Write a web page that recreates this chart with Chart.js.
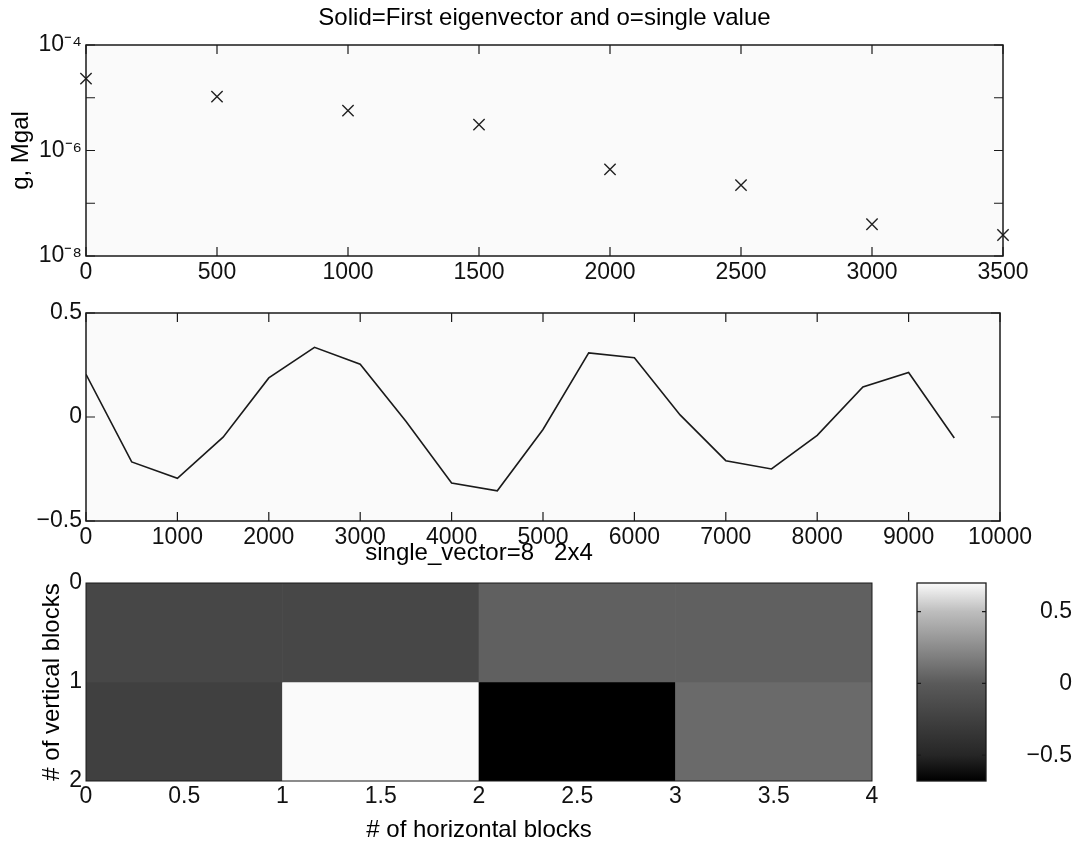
<!DOCTYPE html>
<html>
<head>
<meta charset="utf-8">
<script src="https://cdn.jsdelivr.net/npm/chart.js@4.4.0/dist/chart.umd.min.js"></script>
<style>
  body { margin: 0; background: #fff; }
  #wrap { position: relative; width: 1085px; height: 848px; overflow: hidden; }
  canvas { position: absolute; }
</style>
</head>
<body>
<div id="wrap">
  <canvas id="eig" width="1085" height="292" style="left:0;top:0"></canvas>
  <canvas id="vec" width="1085" height="262" style="left:0;top:290px"></canvas>
  <canvas id="blocks" width="900" height="318" style="left:0;top:530px"></canvas>
  <canvas id="cbar" width="205" height="318" style="left:880px;top:530px"></canvas>
</div>
<script>
// top panel: single values (x markers, log scale)
var svX = [0, 500, 1000, 1500, 2000, 2500, 3000, 3500];
var svVal = [2.3e-5, 1.05e-5, 5.7e-6, 3.1e-6, 4.4e-7, 2.2e-7, 4e-8, 2.5e-8];
var logTicks = [1e-8, 1e-7, 1e-6, 1e-5, 1e-4];

// middle panel: first eigenvector
var vecX = [0, 500, 1000, 1500, 2000, 2500, 3000, 3500, 4000, 4500,
            5000, 5500, 6000, 6500, 7000, 7500, 8000, 8500, 9000, 9500];
var vecVal = [0.205, -0.216, -0.295, -0.097, 0.188, 0.335, 0.254, -0.02, -0.317, -0.355,
              -0.06, 0.308, 0.285, 0.01, -0.21, -0.25, -0.088, 0.144, 0.214, -0.101];

// bottom panel: single_vector=8 on 2x4 blocks
var blockEdges = [0, 1, 2, 3, 4];
var rowCenters = [0.5, 1.5];
var blockRows = [
  [-0.18, -0.18, 0.03, 0.03],
  [-0.25, 0.70, -0.68, 0.08]
];
var cbarTicks = [-0.5, 0, 0.5];

// grey colormap (value -> grey level)
var cmapVals = [-0.68, -0.5, 0, 0.5, 0.70];
var cmapGray = [0, 38, 90, 189, 250];

var FONT = '"Liberation Sans", Arial, Helvetica, sans-serif';
Chart.defaults.font.family = FONT;
Chart.defaults.color = '#111';
Chart.defaults.animation = false;
Chart.defaults.responsive = false;
Chart.defaults.plugins.legend.display = false;
Chart.defaults.plugins.tooltip.enabled = false;

function grayOf(v) {
  var g = cmapGray[cmapGray.length - 1];
  if (v <= cmapVals[0]) g = cmapGray[0];
  for (var i = 1; i < cmapVals.length; i++) {
    if (v > cmapVals[i - 1] && v <= cmapVals[i]) {
      var t = (v - cmapVals[i - 1]) / (cmapVals[i] - cmapVals[i - 1]);
      g = cmapGray[i - 1] + t * (cmapGray[i] - cmapGray[i - 1]);
      break;
    }
  }
  g = Math.round(g);
  return 'rgb(' + g + ',' + g + ',' + g + ')';
}

function plain(v) {
  return String(Math.round(v * 1000) / 1000).replace('-', '\u2212');
}

var SUP = {'-': '\u207B', '0': '\u2070', '1': '\u00B9', '2': '\u00B2', '3': '\u00B3', '4': '\u2074',
           '5': '\u2075', '6': '\u2076', '7': '\u2077', '8': '\u2078', '9': '\u2079'};
function pow10(v) {
  var e = Math.round(Math.log10(v));
  if (e % 2 !== 0) return '';
  return '10' + String(e).split('').map(function(c) { return SUP[c]; }).join('');
}

function fixW(w) { return function(s) { s.width = w; }; }
function fixH(h) { return function(s) { s.height = h; }; }

// box round the plot area + inward ticks like the original
var frame = {
  id: 'frame',
  beforeDatasetsDraw: function(chart, args, o) {
    var a = chart.chartArea, ctx = chart.ctx;
    if (o.bg) {
      ctx.save();
      ctx.fillStyle = o.bg;
      ctx.fillRect(a.left, a.top, a.width, a.height);
      ctx.restore();
    }
    if (o.cmap) {
      var ys = chart.scales.y;
      var grad = ctx.createLinearGradient(0, a.bottom, 0, a.top);
      cmapVals.forEach(function(v, i) {
        var p = (ys.getPixelForValue(v) - a.bottom) / (a.top - a.bottom);
        grad.addColorStop(Math.min(1, Math.max(0, p)), grayOf(v));
      });
      ctx.save();
      ctx.fillStyle = grad;
      ctx.fillRect(a.left, a.top, a.width, a.height);
      ctx.restore();
    }
  },
  afterDraw: function(chart, args, o) {
    if (!o.line) return;
    var a = chart.chartArea, ctx = chart.ctx;
    ctx.save();
    ctx.strokeStyle = '#1a1a1a';
    ctx.lineWidth = o.line;
    ctx.strokeRect(a.left, a.top, a.width, a.height);
    if (o.tick) {
      var L = o.tick, xs = chart.scales.x, ys = chart.scales.y;
      ctx.lineWidth = 1.2;
      ctx.beginPath();
      if (o.xTicks !== false) {
        xs.ticks.forEach(function(t) {
          var p = xs.getPixelForValue(t.value);
          ctx.moveTo(p, a.bottom); ctx.lineTo(p, a.bottom - L);
          ctx.moveTo(p, a.top); ctx.lineTo(p, a.top + L);
        });
      }
      ys.ticks.forEach(function(t) {
        var p = ys.getPixelForValue(t.value);
        ctx.moveTo(a.left, p); ctx.lineTo(a.left + L, p);
        ctx.moveTo(a.right, p); ctx.lineTo(a.right - L, p);
      });
      ctx.stroke();
    }
    ctx.restore();
  }
};
Chart.register(frame);

var tickFont = {size: 23};
var noGrid = {display: false, drawTicks: false};
var noBorder = {display: false};

new Chart(document.getElementById('eig'), {
  type: 'scatter',
  data: {
    datasets: [{
      data: svX.map(function(x, i) { return {x: x, y: svVal[i]}; }),
      pointStyle: 'crossRot',
      pointRadius: 8,
      borderColor: '#222',
      borderWidth: 1.4,
      clip: false
    }]
  },
  options: {
    layout: {padding: {left: 0, right: 82, top: 0, bottom: 0}},
    plugins: {
      title: {
        display: true, fullSize: false,
        text: 'Solid=First eigenvector and o=single value',
        color: '#000',
        font: {size: 24, weight: 'normal'},
        padding: {top: 4, bottom: 12.2}
      },
      frame: {bg: '#fafafa', line: 1.5, tick: 9}
    },
    scales: {
      x: {
        type: 'linear', min: 0, max: 3500,
        grid: noGrid, border: noBorder,
        ticks: {stepSize: 500, font: tickFont, padding: 3, maxRotation: 0, callback: plain},
        afterFit: fixH(36)
      },
      y: {
        type: 'logarithmic', min: 1e-8, max: 1e-4,
        grid: noGrid, border: noBorder,
        ticks: {font: tickFont, padding: 4, callback: pow10},
        afterBuildTicks: function(s) { s.ticks = logTicks.map(function(v) { return {value: v}; }); },
        title: {display: true, text: 'g, Mgal', color: '#000', font: {size: 24}, padding: {top: 7, bottom: 0}},
        afterFit: fixW(86)
      }
    }
  }
});

new Chart(document.getElementById('vec'), {
  type: 'line',
  data: {
    datasets: [{
      data: vecX.map(function(x, i) { return {x: x, y: vecVal[i]}; }),
      borderColor: '#1a1a1a',
      borderWidth: 1.6,
      pointRadius: 0,
      tension: 0
    }]
  },
  options: {
    layout: {padding: {left: 0, right: 85, top: 23, bottom: 0}},
    plugins: {frame: {bg: '#fafafa', line: 1.5, tick: 9}},
    scales: {
      x: {
        type: 'linear', min: 0, max: 10000,
        grid: noGrid, border: noBorder,
        ticks: {stepSize: 1000, font: tickFont, padding: 3, maxRotation: 0, callback: plain},
        afterFit: fixH(31)
      },
      y: {
        min: -0.5, max: 0.5,
        grid: noGrid, border: noBorder,
        ticks: {stepSize: 0.5, font: tickFont, padding: 4, callback: plain},
        afterFit: fixW(86)
      }
    }
  }
});

// each block is a horizontal floating bar: x from edge c to c+1, centred on its row
new Chart(document.getElementById('blocks'), {
  type: 'bar',
  data: {
    datasets: blockRows.map(function(row, r) {
      return {
        data: row.map(function(v, c) { return {y: rowCenters[r], x: [blockEdges[c], blockEdges[c + 1]]}; }),
        backgroundColor: row.map(grayOf),
        borderWidth: 0,
        barPercentage: 1,
        categoryPercentage: 1,
        grouped: false
      };
    })
  },
  options: {
    indexAxis: 'y',
    layout: {padding: {left: 0, right: 28, top: 0, bottom: 0}},
    plugins: {
      title: {
        display: true, fullSize: false,
        text: 'single_vector=8   2x4',
        color: '#000',
        font: {size: 24, weight: 'normal'},
        padding: {top: 8.6, bottom: 15.6}
      },
      frame: {line: 1}
    },
    scales: {
      x: {
        type: 'linear', min: 0, max: 4,
        grid: noGrid, border: noBorder,
        ticks: {stepSize: 0.5, font: tickFont, padding: 2, maxRotation: 0, callback: plain},
        title: {display: true, text: '# of horizontal blocks', color: '#000', font: {size: 24}, padding: {top: 0, bottom: 3.6}},
        afterFit: fixH(67)
      },
      y: {
        type: 'linear', min: 0, max: 2, reverse: true, offset: false,
        grid: noGrid, border: noBorder,
        ticks: {stepSize: 1, font: tickFont, padding: 4, callback: plain},
        title: {display: true, text: '# of vertical blocks', color: '#000', font: {size: 24}, padding: {top: 37.6, bottom: 0}},
        afterFit: fixW(86)
      }
    }
  }
});

var allVals = blockRows[0].concat(blockRows[1]);
new Chart(document.getElementById('cbar'), {
  type: 'scatter',
  data: {datasets: [{data: []}]},
  options: {
    layout: {padding: {left: 37, right: 13, top: 53, bottom: 67}},
    plugins: {frame: {cmap: true, line: 1.3, tick: 4, xTicks: false}},
    scales: {
      x: {display: false, min: 0, max: 1},
      y: {
        position: 'right',
        min: Math.min.apply(null, allVals), max: Math.max.apply(null, allVals),
        grid: noGrid, border: noBorder,
        ticks: {font: tickFont, crossAlign: 'far', callback: plain},
        afterBuildTicks: function(s) { s.ticks = cbarTicks.map(function(v) { return {value: v}; }); },
        afterFit: fixW(86)
      }
    }
  }
});
</script>
</body>
</html>
